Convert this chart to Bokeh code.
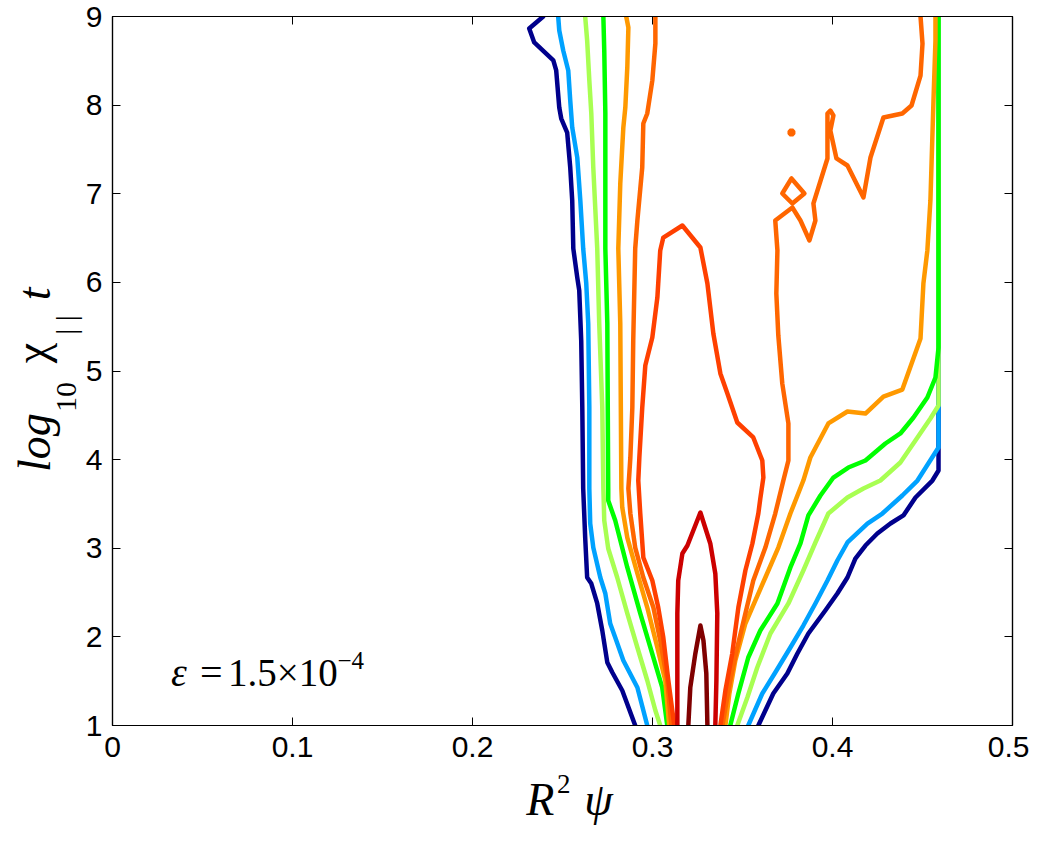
import math
from bokeh.plotting import figure
from bokeh.models import Range1d, FixedTicker, LinearAxis, Label
from bokeh.embed import file_html
from bokeh.resources import INLINE

# ---------------- data ----------------
x_ticks = [0, 0.1, 0.2, 0.3, 0.4, 0.5]
x_tick_labels = ["0", "0.1", "0.2", "0.3", "0.4", "0.5"]
y_ticks = [1, 2, 3, 4, 5, 6, 7, 8, 9]
y_tick_labels = ["1", "2", "3", "4", "5", "6", "7", "8", "9"]

# axis-title pieces (x label: R^2 psi ; y label: log_10 chi_|| t)
xlabel_main = ["R", "ψ"]
xlabel_sup = ["2"]
ylabel_main = ["log", "t"]
ylabel_chi = ["χ"]
ylabel_sub = ["10", "| |"]

# level 1 (navy)
navy_left_x = [0.2393, 0.2315, 0.2343, 0.2449, 0.2465, 0.2482, 0.2493, 0.2526, 0.2543, 0.2554, 0.2560, 0.2582,
               0.2593, 0.2604, 0.2610, 0.2615, 0.2626, 0.2637, 0.2660, 0.2693, 0.2721, 0.2749, 0.2777, 0.2832, 0.2904]
navy_left_y = [9.0, 8.865, 8.707, 8.504, 8.391, 7.973, 7.849, 7.691, 7.296, 6.924, 6.382, 6.055,
               5.908, 5.344, 4.588, 3.674, 3.121, 2.670, 2.602, 2.377, 2.072, 1.711, 1.598, 1.395, 1.0]
navy_right_x = [0.3588, 0.3671, 0.3749, 0.3805, 0.3866, 0.3960, 0.4027, 0.4083, 0.4127, 0.4183, 0.4249, 0.4322,
                0.4394, 0.4461, 0.4555, 0.4589, 0.4589]
navy_right_y = [1.0, 1.361, 1.587, 1.812, 2.038, 2.298, 2.489, 2.670, 2.884, 3.031, 3.166, 3.279,
                3.370, 3.573, 3.764, 3.877, 9.0]

# level 2 (azure)
azure_left_x = [0.2476, 0.2482, 0.2504, 0.2532, 0.2543, 0.2554, 0.2582, 0.2599, 0.2615, 0.2632, 0.2643, 0.2649,
                0.2649, 0.2654, 0.2671, 0.2710, 0.2738, 0.2765, 0.2793, 0.2838, 0.2916, 0.2971]
azure_left_y = [9.0, 8.842, 8.616, 8.391, 8.052, 7.748, 7.409, 6.924, 6.382, 5.987, 5.536, 4.588,
                3.674, 3.279, 3.008, 2.670, 2.489, 2.151, 1.993, 1.733, 1.429, 1.0]
azure_right_x = [0.3532, 0.3610, 0.3682, 0.3766, 0.3838, 0.3905, 0.3972, 0.4027, 0.4083, 0.4194, 0.4277, 0.4388,
                 0.4472, 0.4589, 0.4589]
azure_right_y = [1.0, 1.361, 1.598, 1.880, 2.128, 2.377, 2.636, 2.862, 3.065, 3.279, 3.392, 3.595,
                 3.764, 4.137, 9.0]

# level 3 (light green)
lime_left_x = [0.2626, 0.2637, 0.2649, 0.2660, 0.2671, 0.2693, 0.2704, 0.2721, 0.2727, 0.2732, 0.2754, 0.2804,
               0.2860, 0.2916, 0.2971, 0.3016, 0.3043]
lime_left_y = [9.0, 8.729, 8.278, 7.906, 7.296, 6.382, 5.536, 4.588, 3.674, 3.313, 2.997, 2.670,
               2.264, 1.880, 1.508, 1.169, 1.0]
lime_right_x = [0.3471, 0.3527, 0.3582, 0.3655, 0.3755, 0.3838, 0.3905, 0.3977, 0.4083, 0.4172, 0.4266, 0.4377,
                0.4472, 0.4544, 0.4589, 0.4589]
lime_right_y = [1.0, 1.316, 1.654, 2.038, 2.377, 2.749, 3.065, 3.392, 3.573, 3.674, 3.764, 3.968,
                4.250, 4.464, 4.611, 9.0]

# level 4 (green)
green_left_x = [0.2727, 0.2732, 0.2738, 0.2738, 0.2749, 0.2754, 0.2754, 0.2793, 0.2860, 0.2932, 0.3005, 0.3054, 0.3082]
green_left_y = [9.0, 8.616, 7.906, 6.382, 5.536, 3.674, 3.539, 3.313, 2.783, 2.264, 1.767, 1.429, 1.0]
green_right_x = [0.3432, 0.3477, 0.3532, 0.3599, 0.3694, 0.3766, 0.3822, 0.3866, 0.3933, 0.4005, 0.4088, 0.4183,
                 0.4294, 0.4377, 0.4450, 0.4527, 0.4572, 0.4589, 0.4589]
green_right_y = [1.0, 1.361, 1.767, 2.072, 2.377, 2.783, 3.054, 3.370, 3.595, 3.798, 3.911, 3.990,
                 4.182, 4.295, 4.475, 4.701, 4.927, 5.265, 9.0]

# level 5 (orange)
orange_left_x = [0.2854, 0.2866, 0.2860, 0.2849, 0.2838, 0.2821, 0.2810, 0.2821, 0.2827, 0.2832, 0.2860, 0.2916,
                 0.2971, 0.3027, 0.3071, 0.3093]
orange_left_y = [9.0, 8.876, 8.425, 7.973, 7.748, 7.116, 6.382, 5.536, 3.674, 3.460, 3.121, 2.715,
                 2.331, 1.880, 1.508, 1.0]
orange_right_x = [0.3405, 0.3427, 0.3460, 0.3516, 0.3571, 0.3627, 0.3699, 0.3766, 0.3838, 0.3877, 0.3977, 0.4083,
                  0.4183, 0.4283, 0.4388, 0.4489, 0.4505, 0.4527, 0.4544, 0.4561, 0.4572, 0.4572]
orange_right_y = [1.0, 1.361, 1.733, 2.151, 2.410, 2.670, 3.008, 3.392, 3.764, 4.024, 4.408, 4.543,
                  4.520, 4.712, 4.791, 5.367, 5.987, 6.360, 6.924, 8.052, 8.729, 9.0]

# level 6 (dark orange)
dorange_left_x = [0.3016, 0.3016, 0.2999, 0.2971, 0.2949, 0.2943, 0.2916, 0.2904, 0.2893, 0.2888, 0.2877, 0.2866,
                  0.2877, 0.2904, 0.2949, 0.3005, 0.3043, 0.3082, 0.3105]
dorange_left_y = [9.0, 8.695, 8.278, 7.906, 7.793, 7.296, 6.698, 6.382, 5.344, 4.588, 4.024, 3.674,
                  3.392, 3.008, 2.670, 2.331, 1.959, 1.508, 1.0]
dorange_right_x = [0.3388, 0.3432, 0.3471, 0.3516, 0.3560, 0.3627, 0.3682, 0.3727, 0.3755, 0.3755, 0.3721, 0.3699,
                   0.3688, 0.3694, 0.3682, 0.3777, 0.3822, 0.3872, 0.3905, 0.3894, 0.3972, 0.3972, 0.3988, 0.4005,
                   0.3988, 0.4022, 0.4083, 0.4172, 0.4211, 0.4283, 0.4388, 0.4439, 0.4489, 0.4500, 0.4489]
dorange_right_y = [1.0, 1.508, 1.880, 2.264, 2.636, 3.008, 3.392, 3.764, 3.990, 4.408, 4.859, 5.400,
                   5.874, 6.360, 6.698, 6.845, 6.698, 6.473, 6.698, 6.890, 7.398, 7.906, 7.939, 7.883,
                   7.714, 7.398, 7.319, 6.958, 7.409, 7.860, 7.906, 7.996, 8.334, 8.695, 9.0]
dorange_loop_x = [0.3772, 0.3721, 0.3777, 0.3844, 0.3772]
dorange_loop_y = [7.172, 7.003, 6.890, 7.003, 7.172]
dorange_dot_x = [0.3772]
dorange_dot_y = [7.691]

# level 7 (red-orange, closed hump)
redorange_x = [0.3121, 0.3088, 0.3060, 0.3032, 0.2999, 0.2949, 0.2932, 0.2921, 0.2927, 0.2943, 0.2960, 0.2999,
               0.3027, 0.3043, 0.3060, 0.3166, 0.3266, 0.3305, 0.3338, 0.3377, 0.3416, 0.3471, 0.3560, 0.3610,
               0.3616, 0.3599, 0.3588, 0.3555, 0.3516, 0.3477, 0.3443, 0.3405, 0.3377]
redorange_y = [1.0, 1.508, 1.993, 2.331, 2.636, 2.896, 3.392, 3.764, 4.024, 4.588, 5.062, 5.378,
               5.829, 6.360, 6.506, 6.642, 6.394, 5.987, 5.423, 4.972, 4.746, 4.419, 4.250, 3.990,
               3.798, 3.561, 3.392, 3.054, 2.749, 2.331, 1.812, 1.395, 1.0]

# level 8 (red)
red_x = [0.3138, 0.3138, 0.3143, 0.3166, 0.3194, 0.3266, 0.3321, 0.3349, 0.3360, 0.3355, 0.3349]
red_y = [1.0, 2.264, 2.636, 2.941, 3.031, 3.403, 3.054, 2.715, 2.264, 1.508, 1.0]

# level 9 (dark red)
maroon_x = [0.3199, 0.3210, 0.3238, 0.3266, 0.3283, 0.3299, 0.3305]
maroon_y = [1.0, 1.429, 1.812, 2.128, 1.959, 1.587, 1.0]

# ---------------- figure ----------------
p = figure(frame_width=900, frame_height=709,
           x_range=Range1d(0, 0.5), y_range=Range1d(1, 9),
           output_backend="svg", toolbar_location=None,
           min_border_left=112, min_border_top=16, min_border_right=17, min_border_bottom=120,
           background_fill_color="white", border_fill_color="white")
p.grid.visible = False
p.outline_line_color = "black"
p.outline_line_width = 1.2

TICK_FONT = "Liberation Sans"
TICK_SIZE = "30px"
SERIF = "Liberation Serif"

xax = p.xaxis[0]
xax.ticker = FixedTicker(ticks=x_ticks)
xax.major_label_overrides = {v: s for v, s in zip(x_ticks, x_tick_labels)}
yax = p.yaxis[0]
yax.ticker = FixedTicker(ticks=y_ticks)
yax.major_label_overrides = {v: s for v, s in zip(y_ticks, y_tick_labels)}
for ax in (xax, yax):
    ax.major_tick_in = 8
    ax.major_tick_out = 0
    ax.minor_tick_in = 0
    ax.minor_tick_out = 0
    ax.axis_line_color = "black"
    ax.axis_line_width = 1.2
    ax.major_tick_line_color = "black"
    ax.major_label_text_font = TICK_FONT
    ax.major_label_text_font_size = TICK_SIZE
    ax.major_label_text_color = "black"
xax.major_label_standoff = 11
yax.major_label_standoff = 10

top_ax = LinearAxis(ticker=FixedTicker(ticks=x_ticks),
                    major_label_overrides={v: "" for v in x_ticks})
right_ax = LinearAxis(ticker=FixedTicker(ticks=y_ticks),
                      major_label_overrides={v: "" for v in y_ticks})
for ax in (top_ax, right_ax):
    ax.major_tick_in = 8
    ax.major_tick_out = 0
    ax.minor_tick_in = 0
    ax.minor_tick_out = 0
    ax.major_label_standoff = 0
    ax.major_label_text_font_size = "1px"
    ax.axis_line_color = "black"
    ax.axis_line_width = 1.2
p.add_layout(top_ax, "above")
p.add_layout(right_ax, "right")


def title_axis(side, ticks, labels, style, size, standoff, orient="horizontal"):
    ax = LinearAxis(ticker=FixedTicker(ticks=ticks),
                    major_label_overrides={v: s for v, s in zip(ticks, labels)},
                    axis_line_color=None, major_tick_line_color=None, minor_tick_line_color=None,
                    major_tick_in=0, major_tick_out=0, minor_tick_in=0, minor_tick_out=0,
                    major_label_standoff=standoff, major_label_orientation=orient,
                    major_label_text_font=SERIF, major_label_text_font_style=style,
                    major_label_text_font_size=size, major_label_text_color="black")
    p.add_layout(ax, side)
    return ax


# x title: "R" and "psi" (italic), then superscript "2" pulled up beside R
title_axis("below", [0.2376, 0.2700], xlabel_main, "italic", "46px", 14)
title_axis("below", [0.2507], xlabel_sup, "normal", "27px", -53)
# y title (rotated): subscripts nearest the frame, then main pieces, then chi
title_axis("left", [4.707, 5.52], ylabel_sub, "normal", "30px", 0, "parallel")
title_axis("left", [4.193, 5.87], ylabel_main, "italic", "46px", -14, "parallel")
title_axis("left", [5.203], ylabel_chi, "normal", "46px", -51, "parallel")

LW = 4.5
series = [
    (navy_left_x, navy_left_y, "#00008c"),
    (navy_right_x, navy_right_y, "#00008c"),
    (azure_left_x, azure_left_y, "#00a2ff"),
    (azure_right_x, azure_right_y, "#00a2ff"),
    (lime_left_x, lime_left_y, "#a8ff52"),
    (lime_right_x, lime_right_y, "#a8ff52"),
    (green_left_x, green_left_y, "#00ff00"),
    (green_right_x, green_right_y, "#00ff00"),
    (orange_left_x, orange_left_y, "#ff9900"),
    (orange_right_x, orange_right_y, "#ff9900"),
    (dorange_left_x, dorange_left_y, "#ff6600"),
    (dorange_right_x, dorange_right_y, "#ff6600"),
    (dorange_loop_x, dorange_loop_y, "#ff6600"),
    (redorange_x, redorange_y, "#ff4000"),
    (red_x, red_y, "#cc0000"),
    (maroon_x, maroon_y, "#800000"),
]
for xs, ys, c in series:
    p.line(xs, ys, line_color=c, line_width=LW, line_join="round", line_cap="round")
p.scatter(dorange_dot_x, dorange_dot_y, marker="asterisk", size=8, line_color="#ff6600", line_width=3)


def lab(x, y, text, size, style="normal"):
    p.add_layout(Label(x=x, y=y, text=text,
                       text_font=SERIF, text_font_style=style, text_font_size=size,
                       text_color="black", text_align="left", text_baseline="alphabetic"))


# annotation: epsilon = 1.5 x 10^-4
lab(0.0325, 1.598, "ε", "40px", "italic")
lab(0.0486, 1.598, "=", "40px", "normal")
lab(0.0642, 1.598, "1.5×10", "39px", "normal")
lab(0.1250, 1.733, "−4", "25px", "normal")

open("out.html", "w").write(file_html(p, INLINE))
